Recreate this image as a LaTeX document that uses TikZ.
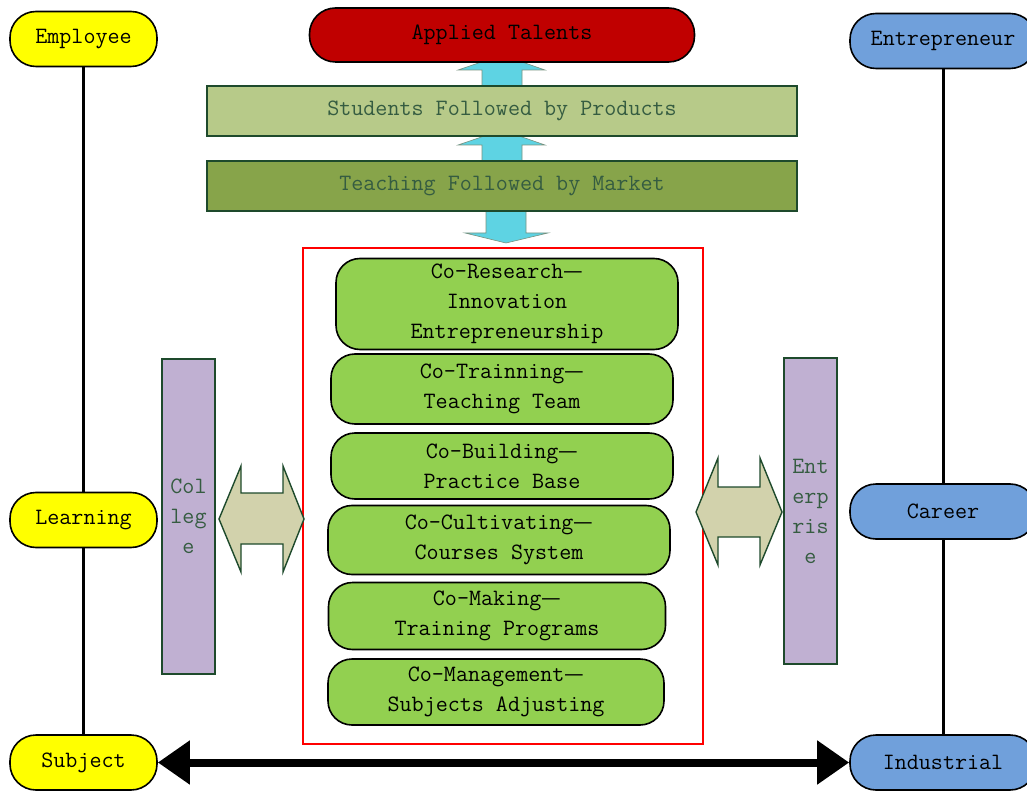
\documentclass[tikz,border=0pt]{standalone}
\usepackage{fontspec}
\newfontfamily\cjk{Noto Sans CJK SC}
\usetikzlibrary{arrows.meta,positioning}
\definecolor{pillyellow}{RGB}{255,255,0}
\definecolor{pillblue}{RGB}{112,160,219}
\definecolor{talentred}{RGB}{192,0,0}
\definecolor{cogreen}{RGB}{146,208,80}
\definecolor{lightolive}{RGB}{183,202,137}
\definecolor{darkolive}{RGB}{135,164,74}
\definecolor{darkgreen}{RGB}{30,74,44}
\definecolor{lavender}{RGB}{192,176,210}
\definecolor{khaki}{RGB}{210,210,172}
\definecolor{cyanarrow}{RGB}{94,211,227}
\tikzset{>=latex}
\newcommand{\codash}{{\cjk\fontsize{22}{30}\selectfont —}}

\begin{document}
\begin{tikzpicture}[x=1pt, y=-1pt, font=\fontsize{23.4}{30}\selectfont\ttfamily,
    pill/.style={draw=black, line width=1.6pt, rounded corners=26pt, minimum width=147pt, minimum height=55pt, inner sep=0pt, fill=#1},
    cobox/.style={draw=black, line width=1.6pt, rounded corners=24pt, fill=cogreen, align=center, inner sep=0pt},
    band/.style={draw=darkgreen, line width=1.4pt, fill=#1, text=darkgreen!90, minimum width=590pt, minimum height=50pt, inner sep=0pt},
    side/.style={draw=darkgreen, line width=1.4pt, fill=lavender, text=darkgreen!90, minimum width=53pt, align=center, inner sep=0pt},
    bluearrow/.style={draw=darkgreen!60, line width=0.6pt, fill=cyanarrow},
    blockarrow/.style={draw=darkgreen, line width=1.4pt, fill=khaki, line join=miter},
    link/.style={line width=3pt}]

    \useasboundingbox (0,0) rectangle (1027,791);

    % up and down arrows between the bands
    \draw[bluearrow] (482,86) -- (482,70) -- (458,70) -- (502,55) -- (545,70) -- (522,70) -- (522,86) -- cycle;
    \draw[bluearrow] (482,161) -- (482,145) -- (458,145) -- (502,130) -- (545,145) -- (522,145) -- (522,161) -- cycle;
    \draw[bluearrow] (486,211) -- (486,233) -- (465,233) -- (506,243) -- (548,233) -- (526,233) -- (526,211) -- cycle;

    % top column
    \node[pill=talentred, minimum width=385pt, minimum height=54pt] (talents) at (502,35) {Applied Talents};
    \node[band=lightolive] (students) at (502,111) {Students Followed by Products};
    \node[band=darkolive] (teaching) at (502,186) {Teaching Followed by Market};

    % co-operation frame
    \draw[red, line width=1.5pt] (303,248) rectangle (703,744);
    \node[cobox, minimum width=342pt, minimum height=91pt] (research) at (507,304) {Co-Research\codash\\Innovation\\Entrepreneurship};
    \node[cobox, minimum width=342pt, minimum height=70pt] (trainning) at (502,389) {Co-Trainning\codash\\Teaching Team};
    \node[cobox, minimum width=342pt, minimum height=66pt] (building) at (502,466) {Co-Building\codash\\Practice Base};
    \node[cobox, minimum width=342pt, minimum height=69pt] (cultivating) at (499,540) {Co-Cultivating\codash\\Courses System};
    \node[cobox, minimum width=337pt, minimum height=67pt] (making) at (497,616) {Co-Making\codash\\Training Programs};
    \node[cobox, minimum width=336pt, minimum height=66pt] (management) at (496,692) {Co-Management\codash\\Subjects Adjusting};

    % college and enterprise
    \node[side, minimum height=315pt] (college) at (188.5,516.5) {Col\\leg\\e};
    \node[side, minimum height=306pt] (enterprise) at (810.5,511) {Ent\\erp\\ris\\e};
    \draw[blockarrow] (219,519) -- (241,466) -- (241,493) -- (283,493) -- (283,466) -- (304,519) -- (283,572) -- (283,544) -- (241,544) -- (241,572) -- cycle;
    \draw[blockarrow] (696,512) -- (718,458) -- (718,487) -- (760,487) -- (760,458) -- (782,512) -- (760,565) -- (760,537) -- (718,537) -- (718,565) -- cycle;

    % left column
    \node[pill=pillyellow] (employee) at (83.5,39) {Employee};
    \node[pill=pillyellow] (learning) at (83.5,520) {Learning};
    \node[pill=pillyellow] (subject) at (83.5,762.5) {Subject};
    \draw[link] (employee) -- (learning);
    \draw[link] (learning) -- (subject);

    % right column
    \node[pill=pillblue, minimum width=186pt] (entrepreneur) at (943,41) {Entrepreneur};
    \node[pill=pillblue, minimum width=186pt] (career) at (943,511.5) {Career};
    \node[pill=pillblue, minimum width=186pt] (industrial) at (943,762.5) {Industrial};
    \draw[link] (entrepreneur) -- (career);
    \draw[link] (career) -- (industrial);

    % subject and industry
    \draw[line width=8pt, {Triangle[length=32pt,width=42pt]}-{Triangle[length=32pt,width=42pt]}] (subject) -- (industrial);
\end{tikzpicture}
\end{document}
